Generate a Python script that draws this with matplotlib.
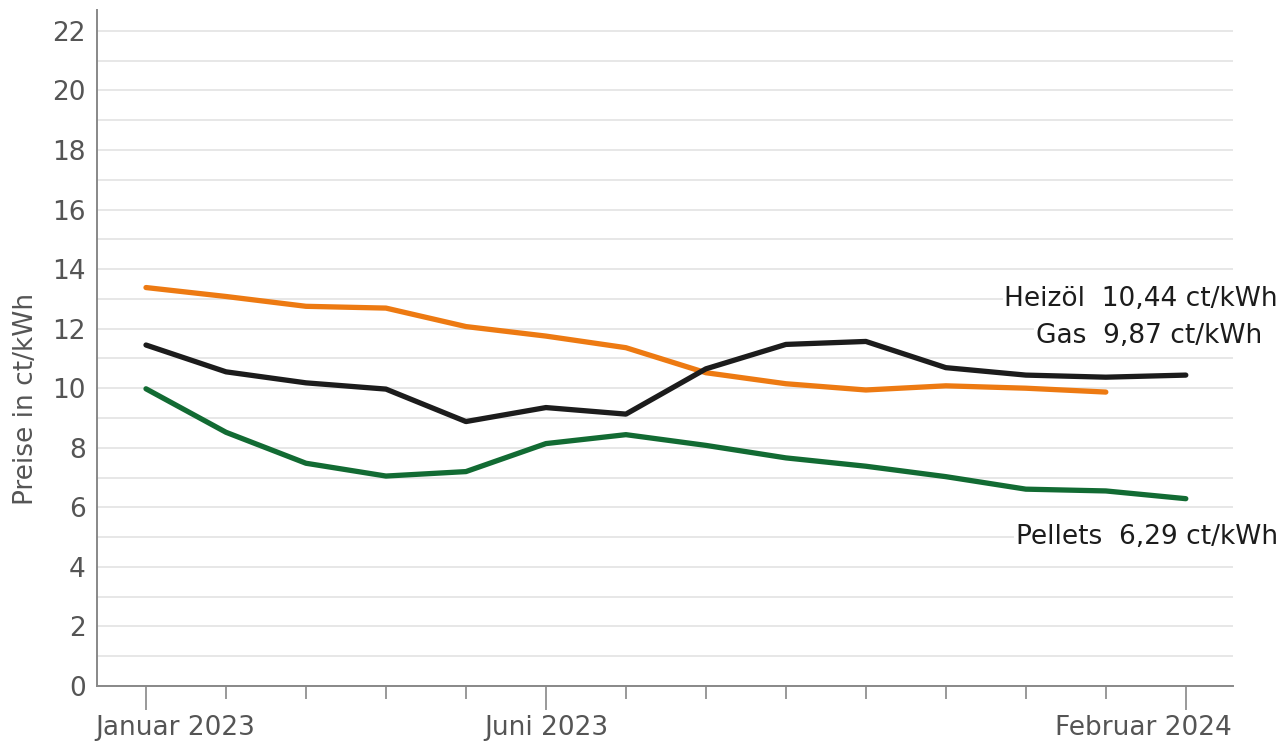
import matplotlib
matplotlib.use("Agg")
import matplotlib.pyplot as plt
import matplotlib.transforms as mtransforms
from matplotlib.ticker import MultipleLocator

plt.rcParams['font.family'] = ['DejaVu Sans Condensed', 'Liberation Sans Narrow', 'DejaVu Sans']

# monthly prices in ct/kWh, Januar 2023 .. Februar 2024
months = ['Januar 2023', 'Feb', 'Mär', 'Apr', 'Mai', 'Juni 2023', 'Jul', 'Aug',
          'Sep', 'Okt', 'Nov', 'Dez', 'Jan', 'Februar 2024']
heizoel = [11.45, 10.55, 10.18, 9.97, 8.88, 9.35, 9.13, 10.65, 11.47, 11.57, 10.69, 10.44, 10.37, 10.44]
gas = [13.38, 13.08, 12.75, 12.69, 12.07, 11.75, 11.36, 10.52, 10.15, 9.94, 10.08, 10.0, 9.87]
pellets = [9.98, 8.52, 7.48, 7.05, 7.2, 8.14, 8.44, 8.08, 7.66, 7.38, 7.03, 6.61, 6.55, 6.29]
labeled = [0, 5, 13]

ORANGE = '#ED7A12'
BLACK = '#1c1c1c'
GREEN = '#126B33'
GREY = '#555555'

fig = plt.figure(figsize=(12.84, 7.42), dpi=100)
ax = fig.add_axes([97/1284, 1 - 686/742, (1233 - 97)/1284, (686 - 10)/742])

x = list(range(len(months)))
ax.plot(x[:len(gas)], gas, color=ORANGE, lw=3.8, solid_capstyle='round', zorder=3)
ax.plot(x, heizoel, color=BLACK, lw=3.8, solid_capstyle='round', zorder=4)
ax.plot(x, pellets, color=GREEN, lw=3.8, solid_capstyle='round', zorder=3)

ax.set_xlim(-0.6125, 13.59)
ax.set_ylim(0, 22.7)

# grid every 1, labels every 2
ax.yaxis.set_major_locator(MultipleLocator(2))
ax.yaxis.set_minor_locator(MultipleLocator(1))
ax.grid(axis='y', which='both', color='#e0e0e0', lw=1.1, zorder=0)
ax.tick_params(axis='y', which='both', length=0, pad=8, labelsize=19, labelcolor=GREY)

ax.set_xticks([i for i in x if i not in labeled], minor=True)
ax.set_xticks(labeled)
ax.set_xticklabels([months[i] for i in labeled])
ax.tick_params(axis='x', which='major', length=17, width=1.2, color='#888888',
               labelsize=19, labelcolor=GREY, pad=4)
ax.tick_params(axis='x', which='minor', length=9, width=1.2, color='#888888')

# first label starts at the axis, last ends at the axis edge
lbls = ax.get_xticklabels()
lbls[0].set_ha('left')
lbls[0].set_transform(lbls[0].get_transform() + mtransforms.ScaledTranslation(-0.51, 0, fig.dpi_scale_trans))
lbls[-1].set_ha('right')
lbls[-1].set_transform(lbls[-1].get_transform() + mtransforms.ScaledTranslation(0.46, 0, fig.dpi_scale_trans))

for s in ['top', 'right']:
    ax.spines[s].set_visible(False)
for s in ['left', 'bottom']:
    ax.spines[s].set_color('#888888')
    ax.spines[s].set_linewidth(1.4)

ax.set_ylabel('Preise in ct/kWh', fontsize=19, color=GREY)
ax.yaxis.set_label_coords(-0.051, 0.425)

ax.text(14.15, 13.0, 'Heizöl  10,44 ct/kWh', ha='right', va='center', fontsize=19,
        color=BLACK, bbox=dict(fc='white', ec='none', pad=1))
ax.text(13.95, 11.75, 'Gas  9,87 ct/kWh', ha='right', va='center', fontsize=19,
        color=BLACK, bbox=dict(fc='white', ec='none', pad=1))
ax.text(14.15, 5.0, 'Pellets  6,29 ct/kWh', ha='right', va='center', fontsize=19,
        color=BLACK, bbox=dict(fc='white', ec='none', pad=1))

fig.savefig('out.png', dpi=100)
